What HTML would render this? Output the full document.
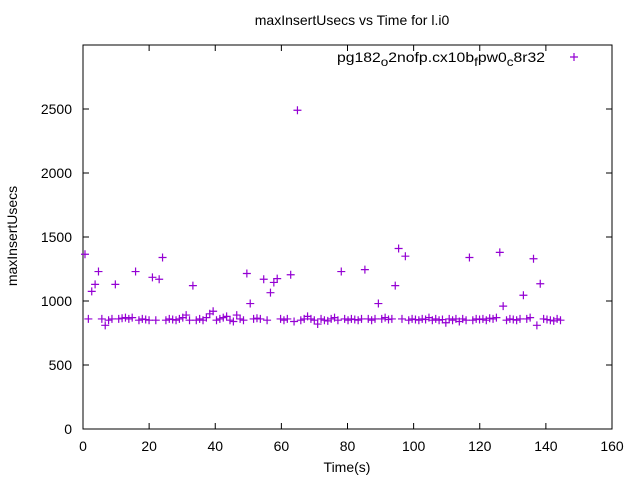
<!DOCTYPE html>
<html><head><meta charset="utf-8"><style>body{margin:0;background:#fff}svg{display:block;font-family:"Liberation Sans",sans-serif}</style></head>
<body>
<svg id="chart" width="640" height="480" viewBox="0 0 640 480">
<text x="352" y="25" font-size="14" text-anchor="middle">maxInsertUsecs vs Time for l.i0</text>
<text transform="translate(17,236) rotate(-90)" font-size="14" text-anchor="middle">maxInsertUsecs</text>
<text x="347" y="472" font-size="14" text-anchor="middle">Time(s)</text>
<rect x="83" y="45" width="529" height="384" fill="none" stroke="#000" stroke-width="1"/>
<g id="axes"></g>
<g id="points"></g>
<g>
<text x="337" y="62" font-size="14" textLength="208" lengthAdjust="spacingAndGlyphs">pg182<tspan baseline-shift="-4" font-size="12">o</tspan>2nofp.cx10b<tspan baseline-shift="-4" font-size="12">f</tspan>pw0<tspan baseline-shift="-4" font-size="12">c</tspan>8r32</text>
<path d="M570 57h8M574 53v8" stroke="#9400d3" stroke-width="1.2"/>
</g>
</svg>
<script>
const xTicks=[0,20,40,60,80,100,120,140,160];
const yTicks=[0,500,1000,1500,2000,2500];
const values=[1365,860,1075,1130,1230,860,810,850,860,1130,860,865,870,860,870,1230,850,860,855,850,1185,850,1170,1340,850,860,855,850,860,870,890,850,1120,850,860,850,870,900,920,850,860,870,880,850,840,890,860,850,1215,980,860,865,860,1170,850,1065,1145,1175,860,850,860,1205,840,2490,850,860,880,860,850,820,860,850,845,860,870,850,1230,860,850,860,855,850,860,1245,860,850,860,980,860,870,855,860,1120,1410,860,1350,850,860,855,850,860,855,870,850,860,850,855,830,860,850,860,840,860,850,1340,850,860,855,860,850,865,860,870,1380,960,850,860,855,850,860,1045,860,870,1330,810,1135,860,855,850,845,860,850];
const times=values.map((v,i)=>0.6+i*1.02);
const X0=83,X1=612,Y0=429,Y1=45;
const xs=t=>X0+(t-0)/(160-0)*(X1-X0);
const ys=v=>Y0-(v-0)/(3000-0)*(Y0-Y1);
const NS="http://www.w3.org/2000/svg";
const ax=document.getElementById('axes'),pg=document.getElementById('points');
function mk(tag,attrs,parent){const e=document.createElementNS(NS,tag);for(const k in attrs)e.setAttribute(k,attrs[k]);parent.appendChild(e);return e;}
xTicks.forEach(t=>{const x=xs(t);
const l=mk('path',{d:`M${x} ${Y0}v-6M${x} ${Y1}v6`,stroke:'#000'},ax);


const tx=mk('text',{x:x,y:Y0+22,'font-size':14,'text-anchor':'middle'},ax);tx.textContent=t;

});
yTicks.forEach(v=>{const y=ys(v);
const l=mk('path',{d:`M${X0} ${y}h6M${X1} ${y}h-6`,stroke:'#000'},ax);


const tx=mk('text',{x:X0-11,y:y+5,'font-size':14,'text-anchor':'end'},ax);tx.textContent=v;

});
values.forEach((v,i)=>{const x=xs(times[i]),y=ys(v);
const p=mk('path',{d:`M${x-4} ${y}h8M${x} ${y-4}v8`,stroke:'#9400d3','stroke-width':1.2},pg);

});
</script>
</body></html>
